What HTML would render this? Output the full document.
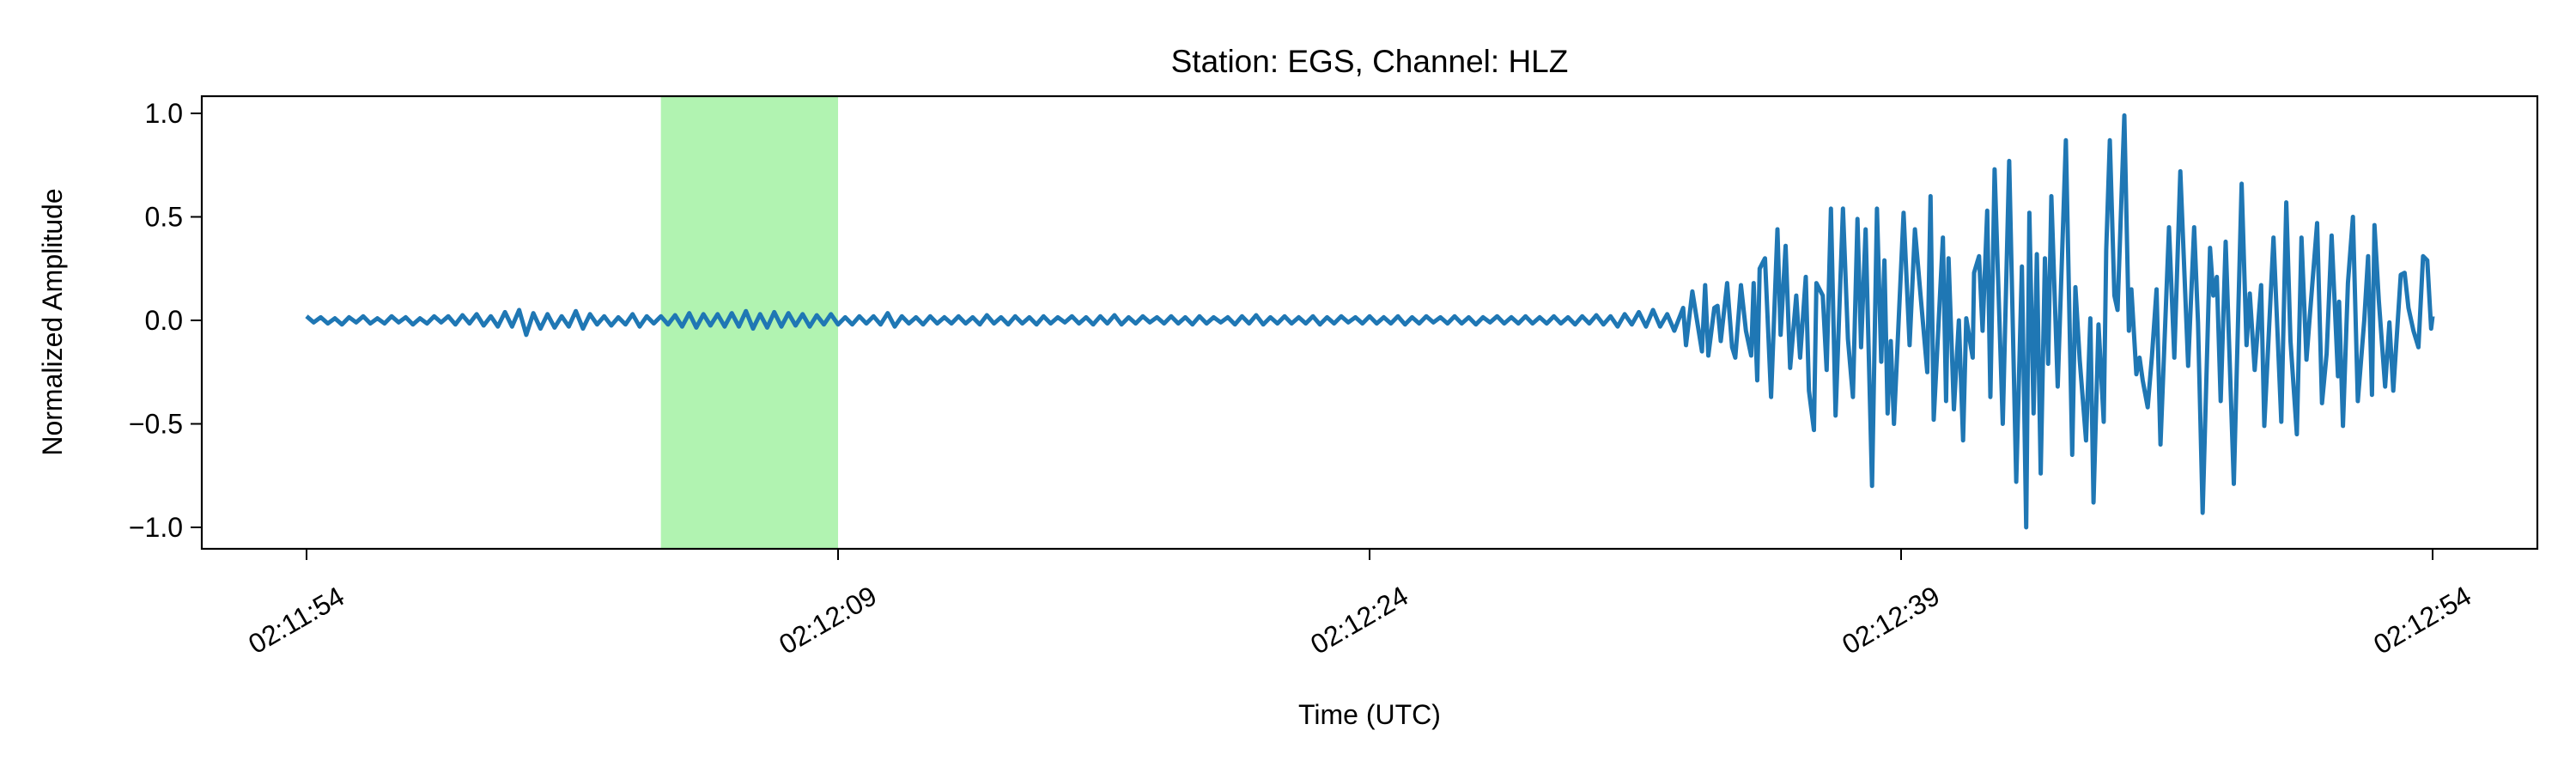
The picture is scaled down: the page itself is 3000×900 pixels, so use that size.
<!DOCTYPE html>
<html><head><meta charset="utf-8"><style>body{margin:0;background:#fff}svg{display:block}text{font-family:"Liberation Sans","DejaVu Sans",sans-serif;fill:#000}</style></head>
<body>
<svg id="chart" width="3000" height="900" viewBox="0 0 3000 900" xmlns="http://www.w3.org/2000/svg">
<rect width="3000" height="900" fill="#fff"/>
<text x="1595" y="84" font-size="37" text-anchor="middle">Station: EGS, Channel: HLZ</text>
<g id="plot"></g>
<text x="1595" y="843" font-size="32" text-anchor="middle">Time (UTC)</text>
<text transform="translate(72,375) rotate(-90)" font-size="32" text-anchor="middle">Normalized Amplitude</text>
</svg>
<script>
const xTickSec=[0,15,30,45,60];
const xTickLabels=["02:11:54","02:12:09","02:12:24","02:12:39","02:12:54"];
const yTicks=[-1,-0.5,0,0.5,1];
const yTickLabels=["\u22121.0","\u22120.5","0.0","0.5","1.0"];
const highlightSpan=[10,15];
const noiseStep=0.2;
const noiseVals=[0.02,-0.01,0.015,-0.015,0.01,-0.02,0.015,-0.01,0.02,-0.015,
0.01,-0.015,0.02,-0.01,0.015,-0.02,0.01,-0.015,0.02,-0.01,
0.02,-0.02,0.025,-0.015,0.03,-0.025,0.02,-0.03,0.04,-0.03,
0.05,-0.07,0.035,-0.04,0.03,-0.035,0.02,-0.03,0.045,-0.04,
0.03,-0.02,0.02,-0.025,0.015,-0.02,0.03,-0.03,0.02,-0.015,
0.02,-0.02,0.025,-0.03,0.035,-0.035,0.03,-0.025,0.03,-0.03,
0.035,-0.03,0.045,-0.04,0.03,-0.035,0.04,-0.03,0.035,-0.025,
0.03,-0.03,0.025,-0.02,0.03,-0.02,0.015,-0.02,0.02,-0.015,
0.02,-0.02,0.035,-0.03,0.02,-0.015,0.015,-0.02,0.02,-0.015,
0.015,-0.015,0.02,-0.015,0.015,-0.02,0.025,-0.015,0.015,-0.02,
0.02,-0.015,0.015,-0.02,0.02,-0.015,0.015,-0.01,0.02,-0.015,
0.015,-0.02,0.02,-0.015,0.025,-0.02,0.015,-0.015,0.02,-0.01,
0.015,-0.015,0.02,-0.015,0.015,-0.02,0.02,-0.015,0.015,-0.01,
0.015,-0.02,0.02,-0.015,0.025,-0.02,0.015,-0.015,0.02,-0.015,
0.015,-0.015,0.02,-0.02,0.015,-0.015,0.02,-0.01,0.015,-0.015,
0.02,-0.015,0.015,-0.015,0.02,-0.02,0.015,-0.015,0.02,-0.01,
0.015,-0.015,0.02,-0.015,0.015,-0.02,0.015,-0.01,0.02,-0.015,
0.015,-0.015,0.02,-0.015,0.015,-0.015,0.02,-0.015,0.015,-0.02,
0.02,-0.015,0.025,-0.02,0.02,-0.03,0.03,-0.02,0.04,-0.03,
0.05,-0.03,0.03,-0.05];
const sigT=[38.85,38.93,39.11,39.38,39.47,39.56,39.73,39.82,39.91,40.09,40.23,40.32,40.48,40.62,40.77,40.84,40.94,41.01,41.16,41.33,41.51,41.60,41.74,41.87,42.04,42.15,42.31,42.40,42.54,42.61,42.79,42.90,43.02,43.15,43.36,43.50,43.64,43.77,43.87,44.00,44.18,44.32,44.44,44.53,44.62,44.71,44.80,45.07,45.24,45.39,45.55,45.74,45.83,45.92,46.18,46.27,46.34,46.49,46.63,46.75,46.84,47.02,47.06,47.20,47.30,47.43,47.52,47.64,47.87,48.05,48.25,48.41,48.53,48.62,48.74,48.83,48.94,49.06,49.15,49.24,49.42,49.65,49.83,49.92,50.04,50.22,50.34,50.43,50.57,50.72,50.79,50.89,51.02,51.11,51.30,51.43,51.50,51.64,51.73,51.82,51.96,52.08,52.21,52.32,52.56,52.71,52.88,53.10,53.27,53.38,53.51,53.72,53.81,53.91,54.02,54.16,54.39,54.61,54.75,54.84,54.98,55.16,55.25,55.51,55.73,55.87,55.99,56.17,56.30,56.44,56.53,56.74,56.88,57.01,57.15,57.33,57.36,57.47,57.61,57.75,57.89,58.07,58.18,58.29,58.36,58.48,58.66,58.78,58.89,59.10,59.21,59.32,59.46,59.60,59.73,59.85,59.96,60.00];
const sigV=[0.06,-0.12,0.14,-0.15,0.17,-0.17,0.06,0.07,-0.10,0.18,-0.13,-0.18,0.17,-0.05,-0.17,0.18,-0.29,0.25,0.30,-0.37,0.44,-0.07,0.36,-0.23,0.12,-0.18,0.21,-0.34,-0.53,0.18,0.12,-0.24,0.54,-0.46,0.54,-0.09,-0.37,0.49,-0.13,0.44,-0.80,0.54,-0.20,0.29,-0.45,-0.10,-0.50,0.52,-0.12,0.44,0.12,-0.25,0.60,-0.48,0.40,-0.39,0.30,-0.43,0.0,-0.58,0.01,-0.18,0.23,0.31,-0.05,0.53,-0.37,0.73,-0.50,0.77,-0.78,0.26,-1.00,0.52,-0.45,0.32,-0.74,0.30,-0.21,0.60,-0.32,0.87,-0.65,0.16,-0.19,-0.58,0.01,-0.88,-0.02,-0.49,0.34,0.87,0.12,0.05,0.99,-0.05,0.15,-0.26,-0.18,-0.29,-0.42,-0.17,0.15,-0.60,0.45,-0.18,0.72,-0.22,0.45,-0.01,-0.93,0.35,0.12,0.21,-0.39,0.38,-0.79,0.66,-0.12,0.13,-0.24,0.17,-0.51,0.40,-0.49,0.57,-0.10,-0.55,0.40,-0.19,0.01,0.47,-0.40,-0.16,0.41,-0.27,0.09,-0.51,0.18,0.50,-0.39,0.0,0.31,-0.36,0.46,0.10,-0.32,-0.01,-0.34,0.22,0.23,0.06,-0.05,-0.13,0.31,0.29,-0.04,0.02];

const L=235,R=2955,T=112,B=639;
const xs=s=>357+s*(2833-357)/60;
const ys=v=>373-v*241;
const NS="http://www.w3.org/2000/svg";
const g=document.getElementById('plot');
function mk(tag,attrs,parent){const e=document.createElementNS(NS,tag);for(const k in attrs)e.setAttribute(k,attrs[k]);(parent||g).appendChild(e);return e;}

const span=mk('rect',{x:xs(highlightSpan[0]),y:T,width:xs(highlightSpan[1])-xs(highlightSpan[0]),height:B-T,fill:'#b1f3b1'});



let pts=[];
noiseVals.forEach((v,i)=>pts.push(xs(i*noiseStep).toFixed(1)+','+ys(v).toFixed(1)));
sigT.forEach((t,i)=>pts.push(xs(t).toFixed(1)+','+ys(sigV[i]).toFixed(1)));
const line=mk('polyline',{points:pts.join(' '),fill:'none',stroke:'#1f77b4','stroke-width':5,'stroke-linejoin':'round'});



const frame=mk('rect',{x:L,y:T,width:R-L,height:B-T,fill:'none',stroke:'#000','stroke-width':2.2});



yTicks.forEach((v,i)=>{
  const tk=mk('line',{x1:L-13,x2:L,y1:ys(v),y2:ys(v),stroke:'#000','stroke-width':2});
  
  
  const tx=mk('text',{x:L-22,y:ys(v)+11,'font-size':32,'text-anchor':'end'});
  tx.textContent=yTickLabels[i];
  
  
});
xTickSec.forEach((s,i)=>{
  const x=xs(s);
  const tk=mk('line',{x1:x,x2:x,y1:B,y2:B+13,stroke:'#000','stroke-width':2});
  
  
  const tx=mk('text',{transform:'translate('+(x-12)+',722) rotate(-30)','font-size':32,'text-anchor':'middle','dominant-baseline':'central'});
  tx.textContent=xTickLabels[i];
  
  
});
</script>
</body></html>
